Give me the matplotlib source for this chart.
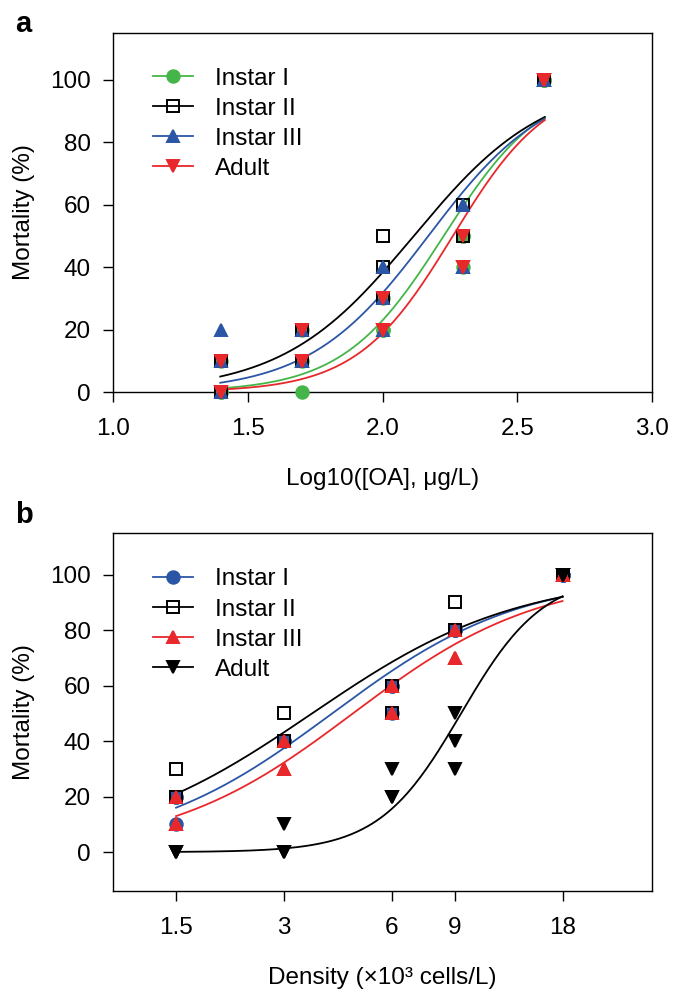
import matplotlib
matplotlib.use("Agg")
import matplotlib.pyplot as plt
import numpy as np

plt.rcParams['font.family'] = ['Liberation Sans', 'DejaVu Sans']
plt.rcParams['font.size'] = 17.5

# panel a: log10 OA concentration
dose_a = [1.4, 1.7, 2.0, 2.3, 2.6]
labels_a = ['Instar I', 'Instar II', 'Instar III', 'Adult']
mort_a = {
    'Instar I':   [[0, 10, 0], [0, 10, 20], [20, 30, 20], [40, 50, 50], [100, 100, 100]],
    'Instar II':  [[0, 10, 10], [10, 20, 20], [50, 40, 30], [60, 50, 50], [100, 100, 100]],
    'Instar III': [[20, 10, 0], [10, 20, 10], [40, 30, 20], [60, 40, 40], [100, 100, 100]],
    'Adult':      [[0, 10, 0], [10, 20, 10], [30, 20, 20], [50, 40, 40], [100, 100, 100]],
}
# fitted logistic curves (midpoint, slope)
mid_a = [2.227, 2.116, 2.170, 2.261]
slope_a = [5.335, 4.113, 4.515, 5.6]

# panel b: cell density (x10^3 cells/L)
dens_b = [1.5, 3, 6, 9, 18]
labels_b = ['Instar I', 'Instar II', 'Instar III', 'Adult']
mort_b = {
    'Instar I':   [[10, 20, 20], [40, 40, 40], [60, 50, 60], [80, 80, 80], [100, 100, 100]],
    'Instar II':  [[30, 20, 20], [50, 40, 40], [60, 60, 50], [90, 80, 80], [100, 100, 100]],
    'Instar III': [[20, 10, 10], [40, 30, 30], [60, 50, 60], [80, 70, 70], [100, 100, 100]],
    'Adult':      [[0, 0, 0], [10, 0, 0], [30, 20, 20], [50, 40, 30], [100, 100, 100]],
}
mid_b = [0.612, 0.556, 0.670, 0.972]   # in log10(density)
slope_b = [3.80, 3.49, 3.85, 8.72]

green = '#45b549'
blue = '#2b56a6'
red = '#e8282b'

style_a = [dict(marker='o', color=green, mfc=green, mec=green),
           dict(marker='s', color='black', mfc='none', mec='black'),
           dict(marker='^', color=blue, mfc=blue, mec=blue),
           dict(marker='v', color=red, mfc=red, mec=red)]
style_b = [dict(marker='o', color=blue, mfc=blue, mec=blue),
           dict(marker='s', color='black', mfc='none', mec='black'),
           dict(marker='^', color=red, mfc=red, mec=red),
           dict(marker='v', color='black', mfc='black', mec='black')]


def logistic(x, mid, k):
    return 100 / (1 + np.exp(-k * (x - mid)))


def style_axes(ax):
    for s in ax.spines.values():
        s.set_linewidth(1.0)
    ax.tick_params(direction='out', length=7, width=1.0, pad=9)
    ax.tick_params(axis='x', pad=12)
    ax.set_yticks([0, 20, 40, 60, 80, 100])
    ax.set_ylabel('Mortality (%)')
    ax.yaxis.set_label_coords(-0.145, 0.5)


fig = plt.figure(figsize=(6.75, 9.9), dpi=100)
ax1 = fig.add_axes([0.1674, 0.604, 0.7986, 0.3627])
ax2 = fig.add_axes([0.1674, 0.1, 0.7986, 0.3616])

# panel a
xs = np.linspace(dose_a[0] - 0.002, dose_a[-1] + 0.002, 200)
handles = []
for i, name in enumerate(labels_a):
    st = style_a[i]
    ax1.plot(xs, logistic(xs, mid_a[i], slope_a[i]), color=st['color'], lw=1.3, zorder=2)
for i, name in enumerate(labels_a):
    st = style_a[i]
    for j, x in enumerate(dose_a):
        ax1.plot([x] * 3, mort_a[name][j], ls='none', marker=st['marker'], ms=9,
                 mfc=st['mfc'], mec=st['mec'], mew=1.4, clip_on=False, zorder=3)
    h, = ax1.plot([], [], color=st['color'], lw=1.3, marker=st['marker'], ms=9,
                  mfc=st['mfc'], mec=st['mec'], mew=1.4)
    handles.append(h)
ax1.legend(handles, labels_a, loc='upper left', bbox_to_anchor=(0.074, 0.903),
           frameon=False, borderpad=0, borderaxespad=0, handlelength=1.65,
           handletextpad=0.9, labelspacing=0.33, numpoints=1)
ax1.set_xlim(1.0, 3.0)
ax1.set_ylim(0, 115)
ax1.set_xticks([1.0, 1.5, 2.0, 2.5, 3.0])
ax1.set_xticklabels(['1.0', '1.5', '2.0', '2.5', '3.0'])
style_axes(ax1)
ax1.set_xlabel('Log10([OA], \u03bcg/L)', labelpad=20)

# panel b
xb = np.logspace(np.log10(dens_b[0]), np.log10(dens_b[-1]), 200)
handles = []
for i, name in enumerate(labels_b):
    st = style_b[i]
    ax2.plot(xb, logistic(np.log10(xb), mid_b[i], slope_b[i]), color=st['color'], lw=1.3, zorder=2)
for i, name in enumerate(labels_b):
    st = style_b[i]
    for j, x in enumerate(dens_b):
        ax2.plot([x] * 3, mort_b[name][j], ls='none', marker=st['marker'], ms=9,
                 mfc=st['mfc'], mec=st['mec'], mew=1.4, zorder=3)
    h, = ax2.plot([], [], color=st['color'], lw=1.3, marker=st['marker'], ms=9,
                  mfc=st['mfc'], mec=st['mec'], mew=1.4)
    handles.append(h)
ax2.legend(handles, labels_b, loc='upper left', bbox_to_anchor=(0.074, 0.901),
           frameon=False, borderpad=0, borderaxespad=0, handlelength=1.65,
           handletextpad=0.9, labelspacing=0.33, numpoints=1)
ax2.set_xscale('log')
ax2.set_xlim(1, 32)
ax2.set_ylim(-14, 115)
ax2.set_xticks(dens_b)
ax2.set_xticklabels(['1.5', '3', '6', '9', '18'])
ax2.xaxis.set_minor_locator(matplotlib.ticker.NullLocator())
style_axes(ax2)
ax2.set_xlabel('Density (\u00d710\u00b3 cells/L)', labelpad=20)

fig.text(0.022, 0.9677, 'a', fontsize=21, fontweight='bold')
fig.text(0.022, 0.4717, 'b', fontsize=21, fontweight='bold')

fig.savefig('out.png', dpi=100)
